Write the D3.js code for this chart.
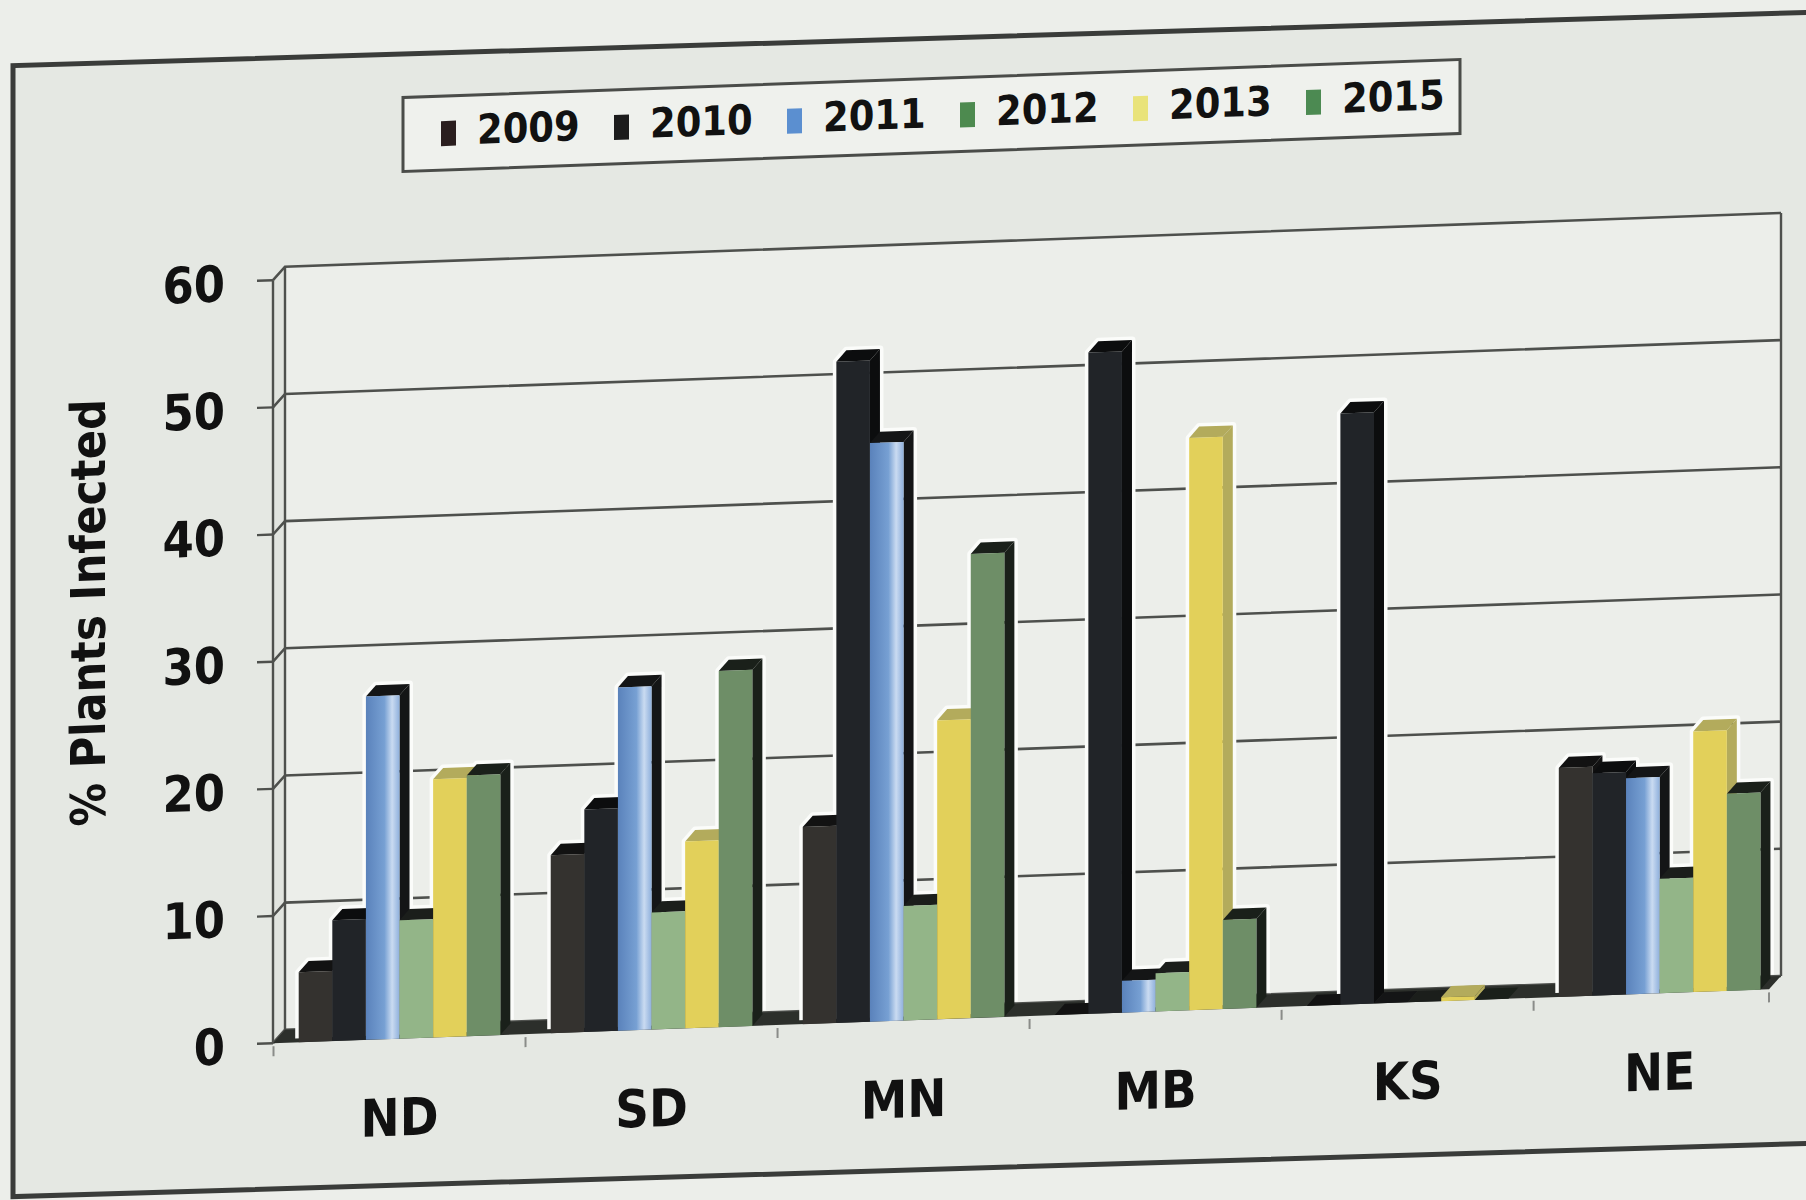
<!DOCTYPE html>
<html>
<head>
<meta charset="utf-8">
<script src="https://cdn.jsdelivr.net/npm/d3@7/dist/d3.min.js"></script>
<style>
  body { margin: 0; background: #eaece8; }
  text { font-family: "DejaVu Sans Condensed", "Liberation Sans", sans-serif; font-weight: bold; fill: #111; }
</style>
</head>
<body>
<svg id="chart" width="1806" height="1200"></svg>
<script>
let states = ["ND", "SD", "MN", "MB", "KS", "NE"];
let years = ["2009", "2010", "2011", "2012", "2013", "2015"];
let v2009 = [5.5, 14, 15.5, 0, 0, 18];
let v2010 = [9.5, 17.5, 52, 52, 46.5, 17.5];
let v2011 = [27, 27, 45.5, 2.5, 0, 17];
let v2012 = [9.3, 9.2, 9, 3, 0, 9];
let v2013 = [20.3, 14.7, 23.5, 45, 0.3, 20.5];
let v2015 = [20.5, 28, 36.5, 7, 0, 15.5];
let yTicks = [0, 10, 20, 30, 40, 50, 60];
let axisTitle = "% Plants Infected";

let series = [v2009, v2010, v2011, v2012, v2013, v2015];

// colours: front, side/top, legend swatch
let front = ["#34322f", "#212428", "url(#blueGrad)", "#93b588", "#e2d05a", "#6e8e67"];
let side  = ["#121212", "#0c0d0e", "#141516", "#1b1e1b", "#b3ab5c", "#1a201a"];
let swatch = ["#2a1e1e", "#1c1c1c", "#5b8fd0", "#4d8a4f", "#e9e37a", "#4c8a52"];

let svg = d3.select("#chart");

let defs = svg.append("defs");
let grad = defs.append("linearGradient").attr("id", "blueGrad")
  .attr("x1", "0%").attr("x2", "100%").attr("y1", "0%").attr("y2", "0%");
grad.append("stop").attr("offset", "0%").attr("stop-color", "#5a82bb");
grad.append("stop").attr("offset", "55%").attr("stop-color", "#77a0d3");
grad.append("stop").attr("offset", "78%").attr("stop-color", "#cadbf1");
grad.append("stop").attr("offset", "100%").attr("stop-color", "#8fb0dc");

svg.append("rect").attr("width", 1806).attr("height", 1200).attr("fill", "#eceeea");

// chart area frame, photographed at a slight angle
let frame = svg.append("g").attr("transform", "skewY(-1.7)");
frame.append("rect")
  .attr("x", 13).attr("y", 66)
  .attr("width", 1840).attr("height", 1131)
  .attr("fill", "#e5e8e3")
  .attr("stroke", "#3a3c3a")
  .attr("stroke-width", 5);

let g = svg.append("g").attr("transform", "skewY(-2.06)");

let yF = d3.scaleLinear().domain([0, 60]).range([1053, 290]);
let x0 = d3.scaleBand().domain(states).range([273, 1769])
  .paddingInner(0.2).paddingOuter(0.068).align(0.75);
let x1 = d3.scaleBand().domain(years).range([0, x0.bandwidth()]);

let dep = {x: 12, y: -13};   // wall depth
let bd = {x: 10, y: -11};    // bar depth

let left = x0.range()[0], right = x0.range()[1];

// back wall + side wall
g.append("rect")
  .attr("x", left + dep.x).attr("y", yF(60) + dep.y)
  .attr("width", right - left).attr("height", yF(0) - yF(60))
  .attr("fill", "#eceeea");

g.append("polygon")
  .attr("points", [[left, yF(0)], [left, yF(60)], [left + dep.x, yF(60) + dep.y], [left + dep.x, yF(0) + dep.y]].join(" "))
  .attr("fill", "#e1e4df");

// gridlines
g.append("g").selectAll("polyline").data(yTicks).join("polyline")
  .attr("points", d => [[left, yF(d)], [left + dep.x, yF(d) + dep.y], [right + dep.x, yF(d) + dep.y]].join(" "))
  .attr("fill", "none")
  .attr("stroke", "#4e504d")
  .attr("stroke-width", 2.6);

// wall edges
let edges = [
  [[left, yF(0)], [left, yF(60)]],
  [[left + dep.x, yF(0) + dep.y], [left + dep.x, yF(60) + dep.y]],
  [[right + dep.x, yF(0) + dep.y], [right + dep.x, yF(60) + dep.y]]
];
g.append("g").selectAll("line").data(edges).join("line")
  .attr("x1", d => d[0][0]).attr("y1", d => d[0][1])
  .attr("x2", d => d[1][0]).attr("y2", d => d[1][1])
  .attr("stroke", "#4e504d")
  .attr("stroke-width", 2.4);

// tick marks on y axis
g.append("g").selectAll("line").data(yTicks).join("line")
  .attr("x1", left - 16).attr("x2", left)
  .attr("y1", d => yF(d)).attr("y2", d => yF(d))
  .attr("stroke", "#4e504d")
  .attr("stroke-width", 2.4);

// floor
g.append("polygon")
  .attr("points", [[left, yF(0)], [right, yF(0)], [right + dep.x, yF(0) + dep.y], [left + dep.x, yF(0) + dep.y]].join(" "))
  .attr("fill", "#2c2f2b");

// category ticks under the floor
let step = x0.step();
let bounds = states.map(s => x0(s) - step * x0.paddingInner() / 2);
bounds.push(right);
g.append("g").selectAll("line").data(bounds).join("line")
  .attr("x1", d => d).attr("x2", d => d)
  .attr("y1", yF(0) + 3).attr("y2", yF(0) + 13)
  .attr("stroke", "#8a8c89")
  .attr("stroke-width", 2);

// bars (front face + side + top)
let bars = [];
states.forEach((s, i) => {
  years.forEach((yr, j) => {
    bars.push({state: s, year: yr, j: j, value: series[j][i]});
  });
});

// open outline (no bottom edge) for the halo
function outline(d) {
  let x = x0(d.state) + x1(d.year), w = x1.bandwidth(), t = yF(d.value), b = yF(0);
  return [[x, b - 4], [x, t], [x + bd.x, t + bd.y], [x + w + bd.x, t + bd.y], [x + w + bd.x, b + bd.y - 4]].join(" ");
}

// light halo from the photo's sharpening
g.append("g").selectAll("polyline").data(bars.filter(d => d.value > 1)).join("polyline")
  .attr("points", outline)
  .attr("fill", "none")
  .attr("stroke", "#fbfcfa")
  .attr("stroke-width", 7)
  .attr("stroke-linejoin", "round");

let barG = g.append("g").selectAll("g").data(bars).join("g");

barG.append("polygon")
  .attr("points", d => {
    let x = x0(d.state) + x1(d.year) + x1.bandwidth(), t = yF(d.value), b = yF(0);
    return [[x, b], [x, t], [x + bd.x, t + bd.y], [x + bd.x, b + bd.y]].join(" ");
  })
  .attr("fill", d => side[d.j]);

barG.append("polygon")
  .attr("points", d => {
    let x = x0(d.state) + x1(d.year), w = x1.bandwidth(), t = yF(d.value);
    return [[x, t], [x + w, t], [x + w + bd.x, t + bd.y], [x + bd.x, t + bd.y]].join(" ");
  })
  .attr("fill", d => side[d.j]);

barG.append("rect")
  .attr("x", d => x0(d.state) + x1(d.year))
  .attr("y", d => yF(d.value))
  .attr("width", x1.bandwidth())
  .attr("height", d => yF(0) - yF(d.value))
  .attr("fill", d => front[d.j]);

// y tick labels
g.append("g").selectAll("text").data(yTicks).join("text")
  .attr("x", left - 48)
  .attr("y", d => yF(d) + 6)
  .attr("text-anchor", "end")
  .attr("dominant-baseline", "middle")
  .attr("font-size", 50)
  .text(d => d);

// category labels
g.append("g").selectAll("text").data(states).join("text")
  .attr("x", d => x0(d) + x0.bandwidth() / 2)
  .attr("y", 1136)
  .attr("text-anchor", "middle")
  .attr("dominant-baseline", "middle")
  .attr("font-size", 52)
  .text(d => d);

// axis title
g.append("text")
  .attr("transform", "translate(92,616) rotate(-90)")
  .attr("text-anchor", "middle")
  .attr("dominant-baseline", "middle")
  .attr("font-size", 48)
  .text(axisTitle);

// legend
let legX = d3.scaleBand().domain(years).range([441, 441 + 173 * years.length]);
let leg = g.append("g");
leg.append("rect")
  .attr("x", 403).attr("y", 112)
  .attr("width", 1057).attr("height", 74)
  .attr("fill", "#eff1ed")
  .attr("stroke", "#4a4c49")
  .attr("stroke-width", 3);

leg.selectAll("rect.sw").data(years).join("rect")
  .attr("class", "sw")
  .attr("x", d => legX(d))
  .attr("y", 137)
  .attr("width", 15).attr("height", 25)
  .attr("fill", (d, i) => swatch[i]);

leg.selectAll("text").data(years).join("text")
  .attr("x", d => legX(d) + 36)
  .attr("y", 150)
  .attr("dominant-baseline", "middle")
  .attr("font-size", 41)
  .text(d => d);
</script>
</body>
</html>
